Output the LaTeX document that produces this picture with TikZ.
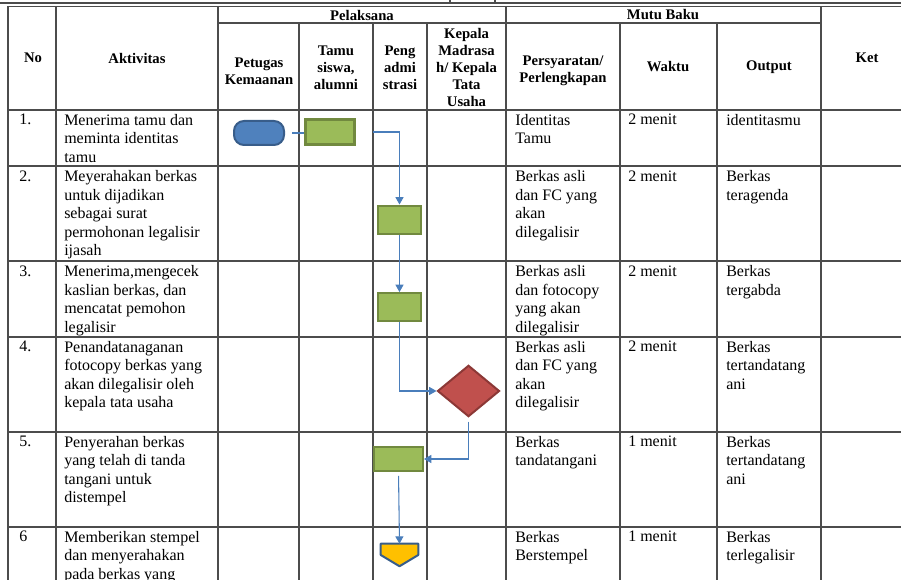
\documentclass[tikz,border=0pt]{standalone}
\usepackage{fontspec}
\setmainfont{Liberation Serif}
\usepackage{xcolor}
\definecolor{flowblue}{HTML}{4A7EBB}
\definecolor{procfill}{HTML}{9BBB59}
\definecolor{procedge}{HTML}{71893F}
\definecolor{termfill}{HTML}{4F81BD}
\definecolor{termedge}{HTML}{385D8A}
\definecolor{decfill}{HTML}{C0504D}
\definecolor{decedge}{HTML}{8C3836}
\definecolor{stampfill}{HTML}{FFC000}
\usepackage{tikz}
\usetikzlibrary{arrows.meta,shapes.geometric}

\begin{document}
\begin{tikzpicture}[x=0.75pt,y=-0.75pt,
		grid/.style={draw=black!70,line width=0.8pt},
		head/.style={font=\fontsize{11}{12.65}\selectfont\bfseries,align=center,inner sep=0pt},
		cell/.style={font=\fontsize{12}{13.8}\selectfont,align=left,anchor=north west,yshift=8.2pt,inner sep=0pt},
		procbox/.style={rectangle,draw=procedge,fill=procfill,line width=1.8pt,inner sep=0pt},
		termbox/.style={rectangle,rounded corners=7.5pt,draw=termedge,fill=termfill,line width=1.5pt,inner sep=0pt,minimum width=37.5pt,minimum height=18pt},
		decbox/.style={diamond,draw=decedge,fill=decfill,line width=1.5pt,inner sep=0pt,minimum width=46.5pt,minimum height=38.5pt},
		flow/.style={draw=flowblue,line width=0.8pt,-{Triangle[length=5.5pt,width=6pt]}},
		flowplain/.style={draw=flowblue,line width=0.8pt}]
	
	\clip (0,0) rectangle (901,580);
	
	%%% bottom of the table above
	\draw[grid,line width=1pt] (0,3) -- (901,3);
	\draw[grid] (450,0) -- (450,3) (495,0) -- (495,3);
	
	%%% table lines
	\draw[grid] (8,6.5) -- (910,6.5);
	\draw[grid] (218,23) -- (821,23);
	\foreach \y in {110,166,261,337,432,527}
		\draw[grid] (8,\y) -- (910,\y);
	\foreach \x in {8,56,218,506,821}
		\draw[grid] (\x,6.5) -- (\x,590);
	\foreach \x in {299,373,427,620,717}
		\draw[grid] (\x,23) -- (\x,590);
	
	%%% header
	\node[head] (no) at (33,58) {No};
	\node[head] (akt) at (137,58) {Aktivitas};
	\node[head] (pel) at (362,15) {Pelaksana};
	\node[head] (mutu) at (663,15) {Mutu Baku};
	\node[head] (ptg) at (259,71.5) {Petugas\\Kemaanan};
	\node[head] (tamu) at (336,68) {Tamu\\siswa,\\alumni};
	\node[head] (adm) at (400,68) {Peng\\admi\\strasi};
	\node[head] (kep) at (466.5,67.5) {Kepala\\Madrasa\\h/ Kepala\\Tata\\Usaha};
	\node[head] (syr) at (563,71) {Persyaratan/\\Perlengkapan};
	\node[head] (wkt) at (668,67) {Waktu};
	\node[head] (outp) at (769,67) {Output};
	\node[head] (ket) at (867,58) {Ket};
	
	%%% row 1
	\node[cell] (n1) at (19,125) {1.};
	\node[cell] (a1) at (64,125) {Menerima tamu dan\\meminta identitas\\tamu};
	\node[cell] (s1) at (515,125) {Identitas\\Tamu};
	\node[cell] (w1) at (628,125) {2 menit};
	\node[cell] (o1) at (726,125) {identitasmu};
	
	%%% row 2
	\node[cell] (n2) at (19,181.5) {2.};
	\node[cell] (a2) at (64,181.5) {Meyerahakan berkas\\untuk dijadikan\\sebagai surat\\permohonan legalisir\\ijasah};
	\node[cell] (s2) at (515,181.5) {Berkas asli\\dan FC yang\\akan\\dilegalisir};
	\node[cell] (w2) at (628,181.5) {2 menit};
	\node[cell] (o2) at (726,181.5) {Berkas\\teragenda};
	
	%%% row 3
	\node[cell] (n3) at (19,276.5) {3.};
	\node[cell] (a3) at (64,276.5) {Menerima,mengecek\\kaslian berkas, dan\\mencatat pemohon\\legalisir};
	\node[cell] (s3) at (515,276.5) {Berkas asli\\dan fotocopy\\yang akan\\dilegalisir};
	\node[cell] (w3) at (628,276.5) {2 menit};
	\node[cell] (o3) at (726,276.5) {Berkas\\tergabda};
	
	%%% row 4
	\node[cell] (n4) at (19,352) {4.};
	\node[cell] (a4) at (64,352) {Penandatanaganan\\fotocopy berkas yang\\akan dilegalisir oleh\\kepala tata usaha};
	\node[cell] (s4) at (515,352) {Berkas asli\\dan FC yang\\akan\\dilegalisir};
	\node[cell] (w4) at (628,352) {2 menit};
	\node[cell] (o4) at (726,352) {Berkas\\tertandatang\\ani};
	
	%%% row 5
	\node[cell] (n5) at (19,447) {5.};
	\node[cell] (a5) at (64,447) {Penyerahan berkas\\yang telah di tanda\\tangani untuk\\distempel};
	\node[cell] (s5) at (515,447) {Berkas\\tandatangani};
	\node[cell] (w5) at (628,447) {1 menit};
	\node[cell] (o5) at (726,447) {Berkas\\tertandatang\\ani};
	
	%%% row 6
	\node[cell] (n6) at (19,542) {6};
	\node[cell] (a6) at (64,542) {Memberikan stempel\\dan menyerahakan\\pada berkas yang};
	\node[cell] (s6) at (515,542) {Berkas\\Berstempel};
	\node[cell] (w6) at (628,542) {1 menit};
	\node[cell] (o6) at (726,542) {Berkas\\terlegalisir};
	
	%%% flow shapes
	\node[termbox] (start) at (259,133) {};
	\node[procbox,minimum width=36.75pt,minimum height=18.75pt] (terima) at (330,132) {};
	\node[procbox,minimum width=32.6pt,minimum height=21.4pt] (agenda) at (399.5,220) {};
	\node[procbox,minimum width=32.6pt,minimum height=20.6pt] (cek) at (399.5,307) {};
	\node[decbox] (ttd) at (468.5,391) {};
	\node[procbox,minimum width=36.4pt,minimum height=18.4pt] (serah) at (398.5,459) {};
	\node[inner sep=0pt,minimum width=27.75pt,minimum height=16.5pt] (stamp) at (399.5,555) {};
	\filldraw[draw=termedge,fill=stampfill,line width=1.5pt,line join=round]
		(stamp.north west) -- (stamp.north east) -- (stamp.east) -- (stamp.south) -- (stamp.west) -- cycle;
	
	%%% connectors
	\draw[flowplain,shorten <=5.25pt] (start.east) -- (start.east -| terima.west);
	\draw[flow,shorten <=12.75pt] (terima.east) -| (agenda.north);
	\draw[flow] (agenda.south) -- (cek.north);
	\draw[flow] (cek.south) |- (ttd.west);
	\draw[flow,shorten <=3pt] (ttd.south) |- (serah.east);
	\draw[flow,shorten <=2.5pt] (serah.south) -- (stamp.north);
	
\end{tikzpicture}
\end{document}
